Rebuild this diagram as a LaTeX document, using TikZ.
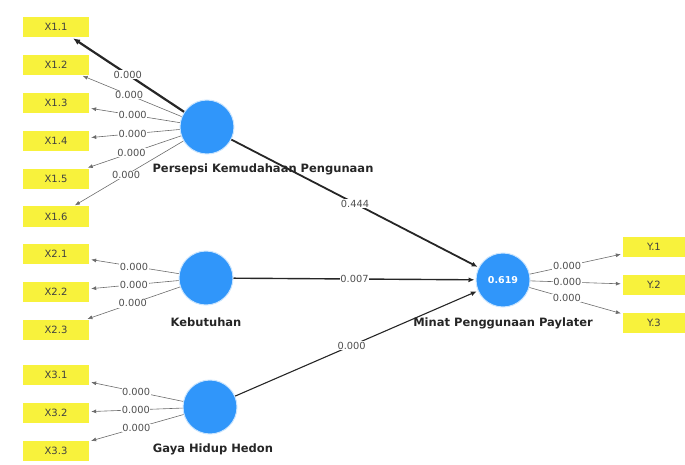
\documentclass[tikz,border=0pt]{standalone}
\usepackage{fontspec}
\setmainfont{DejaVu Sans}
\usetikzlibrary{arrows.meta,positioning}
\definecolor{indyellow}{RGB}{248,242,60}
\definecolor{lvblue}{RGB}{48,150,250}
\definecolor{coefgray}{RGB}{80,80,80}

\begin{document}
\begin{tikzpicture}[
    x=1pt, y=-1pt,
    node distance=17.5pt,
    ind/.style={
        rectangle, fill=indyellow, inner sep=0pt,
        minimum width=66pt, minimum height=20pt,
        font=\fontsize{10}{11}\selectfont, text=black!75
    },
    lv/.style={
        circle, fill=lvblue, draw=lvblue!25, line width=1pt,
        minimum size=54pt, inner sep=0pt,
        font=\bfseries\fontsize{9.5}{10}\selectfont, text=white
    },
    lvname/.style={font=\bfseries\fontsize{11.5}{13}\selectfont, text=black!85},
    coef/.style={fill=white, inner sep=0.6pt, font=\fontsize{9.8}{11}\selectfont, text=coefgray},
    load/.style={-{Latex[length=5pt,width=4pt]}, draw=gray!85!black, line width=0.6pt, shorten >=2pt},
    inner/.style={-{Latex[length=6pt,width=5pt]}, draw=black!85, shorten >=1pt}
]
\useasboundingbox (0,0) rectangle (685,465);

% Latent variables
\node[lv] (pkp) at (207,127) {};
\node[lv] (keb) at (206,278) {};
\node[lv] (ghh) at (210,407) {};
\node[lv] (mpp) at (503,280) {0.619};

\node[lvname, below=6pt of pkp, xshift=56pt] (pkpname) {Persepsi Kemudahaan Pengunaan};
\node[lvname, below=9pt of keb] (kebname) {Kebutuhan};
\node[lvname, below=6pt of ghh, xshift=3pt] (ghhname) {Gaya Hidup Hedon};
\node[lvname, below=7pt of mpp] (mppname) {Minat Penggunaan Paylater};

% Indicators X1
\node[ind] (x11) at (56,27) {X1.1};
\node[ind, below=of x11] (x12) {X1.2};
\node[ind, below=of x12] (x13) {X1.3};
\node[ind, below=of x13] (x14) {X1.4};
\node[ind, below=of x14] (x15) {X1.5};
\node[ind, below=of x15] (x16) {X1.6};

% Indicators X2
\node[ind] (x21) at (56,254) {X2.1};
\node[ind, below=of x21] (x22) {X2.2};
\node[ind, below=of x22] (x23) {X2.3};

% Indicators X3
\node[ind] (x31) at (56,375) {X3.1};
\node[ind, below=of x31] (x32) {X3.2};
\node[ind, below=of x32] (x33) {X3.3};

% Indicators Y
\node[ind, minimum width=62pt] (y1) at (654,247) {Y.1};
\node[ind, minimum width=62pt, below=of y1] (y2) {Y.2};
\node[ind, minimum width=62pt, below=of y2] (y3) {Y.3};

% Outer loadings
\draw[load, line width=2.2pt, draw=black!85, -{Latex[length=7pt,width=6pt]}] (pkp) -- node[coef, pos=0.5] {0.000} (x11);
\draw[load] (pkp) -- node[coef, pos=0.52] {0.000} (x12);
\draw[load] (pkp) -- node[coef, pos=0.52] {0.000} (x13);
\draw[load] (pkp) -- node[coef, pos=0.52] {0.000} (x14);
\draw[load] (pkp) -- node[coef, pos=0.52] {0.000} (x15);
\draw[load] (pkp) -- node[coef, pos=0.52] {0.000} (x16);

\draw[load] (keb) -- node[coef, pos=0.5] {0.000} (x21);
\draw[load] (keb) -- node[coef, pos=0.5] {0.000} (x22);
\draw[load] (keb) -- node[coef, pos=0.5] {0.000} (x23);

\draw[load] (ghh) -- node[coef, pos=0.5] {0.000} (x31);
\draw[load] (ghh) -- node[coef, pos=0.5] {0.000} (x32);
\draw[load] (ghh) -- node[coef, pos=0.5] {0.000} (x33);

\draw[load] (mpp) -- node[coef, pos=0.4] {0.000} (y1);
\draw[load] (mpp) -- node[coef, pos=0.4] {0.000} (y2);
\draw[load] (mpp) -- node[coef, pos=0.4] {0.000} (y3);

% Path coefficients
\draw[inner, line width=1.8pt] (pkp) -- node[coef, pos=0.5] {0.444} (mpp);
\draw[inner, line width=1.4pt] (keb) -- node[coef, pos=0.5] {0.007} (mpp);
\draw[inner, line width=1.1pt] (ghh) -- node[coef, pos=0.48] {0.000} (mpp);

\end{tikzpicture}
\end{document}
